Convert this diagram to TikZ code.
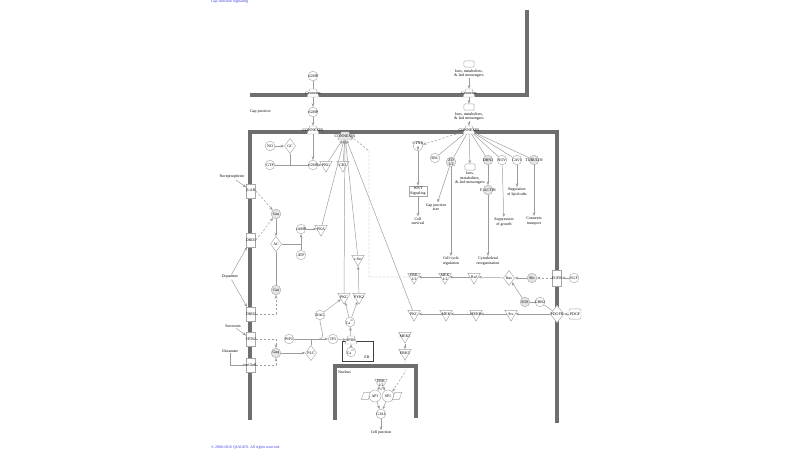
\documentclass[tikz,border=0pt]{standalone}
\usepackage{fontspec}
\setmainfont{Liberation Serif}
\usepackage{tikz}
\usetikzlibrary{calc}
\usetikzlibrary{positioning}
\usetikzlibrary{shapes.geometric}
\usetikzlibrary{arrows.meta}
\definecolor{membrane}{HTML}{6E6E6E}
\definecolor{nodeline}{HTML}{A6A6A6}
\definecolor{nodefill}{HTML}{E6E6E6}
\definecolor{linkgray}{HTML}{9C9C9C}
\definecolor{ipablue}{HTML}{3B3BE0}
\tikzset{
mol/.style={circle,draw=nodeline,fill=white,inner sep=0cm,minimum size=2.4mm,line width=0.3pt},
gmol/.style={mol,fill=nodefill},
kin/.style={regular polygon,regular polygon sides=3,shape border rotate=180,draw=nodeline,fill=white,inner sep=0.3pt,minimum size=3.6mm,line width=0.3pt},
enz/.style={diamond,draw=nodeline,fill=white,inner sep=0cm,minimum width=2.8mm,minimum height=3.8mm,line width=0.3pt},
recep/.style={rectangle,draw=nodeline,fill=white,inner sep=0cm,minimum width=2.3mm,minimum height=3.4mm,line width=0.3pt},
chan/.style={trapezium,trapezium angle=65,trapezium stretches=true,draw=nodeline,fill=white,inner sep=0.4pt,minimum width=3mm,minimum height=2mm,line width=0.3pt},
smbox/.style={rectangle,rounded corners=0.3mm,draw=nodeline,fill=white,inner sep=0cm,minimum width=2.6mm,minimum height=1.6mm,line width=0.3pt},
sigbox/.style={rectangle,draw=nodeline,fill=white,inner sep=0.3mm,align=center,line width=0.3pt},
tfbox/.style={trapezium,trapezium left angle=60,trapezium right angle=120,trapezium stretches=true,draw=nodeline,fill=white,inner sep=0.4pt,minimum width=2.4mm,minimum height=1.8mm,line width=0.3pt},
lb/.style={label={[inner sep=0pt,align=center]center:#1}},
txt/.style={align=center,inner sep=0.2mm},
link/.style={linkgray,line width=0.35pt,-{Stealth[length=0.9mm,width=0.7mm]}},
pline/.style={linkgray,line width=0.35pt},
dlink/.style={link,dash pattern=on 0.6mm off 0.4mm},
wall/.style={membrane,line width=1mm}
}

\begin{document}
\begin{tikzpicture}[x=0.25mm,y=-0.25mm]
    \fontsize{2.8}{3.1}\selectfont
    \useasboundingbox (0,0) rectangle (800,450);
    %
    \draw[wall] (250,95) -- (527,95) -- (527,10);
    \draw[wall] (250,420) -- (250,132) -- (557,132) -- (557,423);
    \draw[wall] (335,420) -- (335,366) -- (416,366) -- (416,418);
    \draw[black!75,line width=0.5pt] (342,341) rectangle (373,361);
    %
    \node[txt,anchor=west,text=ipablue](title) at (210,2) {Gap Junction Signaling};
    \node[txt,anchor=west](gjlbl) at (249,112) {Gap junction};
    \node[txt,anchor=west](nuclbl) at (337,372) {Nucleus};
    \node[txt](erlbl) at (367,357) {ER};
    \node[txt,anchor=west,text=ipablue](copy) at (210,448) {© 2000-2016 QIAGEN. All rights reserved.};
    %
    % junction between the two cells
    \node[mol, lb=cGMP](cgmp1) at (313,76) {};
    \node[chan, lb=Connexin](cx1) at (313,93) {};
    \node[mol, lb=cGMP](cgmp2) at (313,112) {};
    \node[chan, lb=CONNEXIN](cx2) at (313,130) {};
    \node[smbox](ion1) at (469,64) {};
    \node[txt, below=0.2mm of ion1](ion1t) {Ions, metabolites,\\\& 2nd messengers};
    \node[chan, lb=Connexin](cx3) at (469,93) {};
    \node[smbox](ion2) at (469,107) {};
    \node[txt, below=0.2mm of ion2](ion2t) {Ions, metabolites,\\\& 2nd messengers};
    \node[chan, lb=CONNEXIN](cx4) at (469,130) {};
    \node[chan, fill=nodefill, minimum width=3.6mm, lb=CONNEXIN](hub) at (345,136) {};
    %
    % cell, left part
    \node[mol, lb=NO](no) at (270,146) {};
    \node[enz, lb=GC](gc) at (290,146) {};
    \node[mol, lb=GTP](gtp) at (270,165) {};
    \coordinate (jgc) at (290,165);
    \node[mol, lb=cGMP](cgmp3) at (313,165) {};
    \node[kin, lb=PKG](pkg) at (326,165) {};
    \node[kin, lb=CK1](ck1) at (343,165) {};
    \node[txt](norepi) at (232,177) {Norepinephrine};
    \node[recep, lb=β-AR](bar) at (251,191) {};
    \node[gmol, lb=Gαs](gas) at (276,214) {};
    \node[enz, lb=AC](ac) at (276,244) {};
    \coordinate (jac) at (301,244);
    \node[mol, lb=cAMP](camp) at (301,229) {};
    \node[kin, lb=PKA](pka) at (321,229) {};
    \node[mol, lb=ATP](atp) at (301,255) {};
    \node[recep, lb=DRD1](drd1) at (251,240) {};
    \node[txt](dopa) at (230,277) {Dopamine};
    \node[gmol, lb=Gαi](gai) at (276,290) {};
    \node[recep, lb=DRD2](drd2) at (251,314) {};
    \node[txt](sero) at (233,326) {Serotonin};
    \node[recep, lb=HTR2](htr2) at (251,339) {};
    \node[txt](glu) at (230,351) {Glutamate};
    \node[recep, lb=mGluR](mglur) at (251,365) {};
    \node[gmol, lb=Gαq](gaq) at (276,353) {};
    \node[enz, lb=PLC](plc) at (311,353) {};
    \node[mol, lb=PIP2](pip2) at (289,339) {};
    \coordinate (jplc) at (311,339);
    \coordinate (jdag) at (319,339);
    \node[mol, lb=DAG](dag) at (320,315) {};
    \node[mol, lb=IP3](ip3) at (333,339) {};
    \node[chan, lb=IP3R](ip3r) at (351,340) {};
    \node[mol, lb=Ca\textsuperscript{2+}](ca1) at (351,352) {};
    \node[mol, lb=Ca\textsuperscript{2+}](ca2) at (350,322) {};
    \node[kin, lb=PKC](pkc) at (344,297) {};
    \node[kin, lb=PYK2](pyk2) at (359,297) {};
    \node[kin, lb=c-Src](src) at (358,259) {};
    %
    % cell, right part
    \node[mol, lb={CTNN\\β}](ctnn) at (418,146) {};
    \node[mol, lb=SRC](srcb) at (435,158) {};
    \node[gmol, lb={ZO\\1/2}](zo) at (451,162) {};
    \node[smbox](ion3) at (470,167) {};
    \node[txt, below=0.2mm of ion3](ion3t) {Ions,\\metabolites,\\\& 2nd messengers};
    \node[gmol, lb=DBN1](dbn1) at (488,160) {};
    \node[mol, lb=NOV](nov) at (502,160) {};
    \node[mol, lb=CAV1](cav1) at (517,160) {};
    \node[gmol, lb=TUBULIN](tub) at (534,160) {};
    \node[gmol, lb=F-ACTIN](factin) at (488,190) {};
    \node[sigbox](wnt) at (418,191) {WNT\\Signaling};
    \node[txt](surv) at (418,221) {Cell\\survival};
    \node[txt](gjsize) at (436,207) {Gap junction\\size};
    \node[txt](lipid) at (517,192) {Regulation\\of lipid rafts};
    \node[txt](supp) at (504,222) {Suppression\\of growth};
    \node[txt](ctrans) at (534,221) {Connexin\\transport};
    \node[txt](cellcyc) at (451,261) {Cell cycle\\regulation};
    \node[txt](cyto) at (488,261) {Cytoskeletal\\reorganization};
    %
    \node[kin, lb={ERK\\1/2}](erk) at (414,277) {};
    \node[kin, lb={MEK\\1/2}](mek) at (445,277) {};
    \node[kin, lb=Raf](raf) at (474,277) {};
    \node[enz, lb=Ras](ras) at (509,278) {};
    \node[gmol, lb=Shc](shc) at (532,278) {};
    \node[recep, minimum height=4mm, lb=EGFR](egfr) at (557,278) {};
    \node[mol, lb=EGF](egf) at (574,278) {};
    \node[kin, lb=PKC](r2a) at (414,314) {};
    \node[kin, lb=MEK](r2b) at (446,314) {};
    \node[kin, lb=MEKK](r2c) at (476,314) {};
    \node[kin, lb=Src](r2d) at (511,314) {};
    \node[gmol, lb=SOS](sos) at (525,302) {};
    \node[mol, lb=GRB2](grb2) at (540,302) {};
    \node[enz, minimum width=3.4mm, minimum height=4.4mm, lb=PDGFR](pdgfr) at (557,314) {};
    \node[smbox, minimum width=3mm, minimum height=2.6mm, lb=PDGF](pdgf) at (575,314) {};
    %
    % nucleus
    \node[kin, lb=MEK5](mek5) at (405,336) {};
    \node[kin, lb=ERK5](erk5) at (405,353) {};
    \node[kin, lb={ERK\\1/2}](erkn) at (381,383) {};
    \node[tfbox](tf1) at (366,396) {};
    \node[mol, minimum width=3mm, lb=AP1](ap1) at (375,396) {};
    \node[mol, minimum width=3mm, lb=SP1](sp1) at (388,396) {};
    \node[tfbox](tf2) at (397,396) {};
    \node[mol, lb=GJA1](gja1) at (381,414) {};
    \node[txt](celljn) at (381,433) {Cell junction};
    %
    \foreach \u / \v in {cx1/cgmp2,cgmp2/cx2,ion1t/cx3,cx3/ion2,ion2t/cx4,
      no/gc,gas/ac,jac/camp,camp/pka,cx2/cgmp3,cgmp3/pkg,norepi/bar,dopa/drd1,dopa/drd2,sero/htr2,
      gaq/plc,jdag/ip3,ip3/ip3r,ip3r/ca2,ca1/ip3r,ca2/pkc,ca2/pyk2,dag/pkc,pyk2/src,
      pkg/hub,ck1/hub,pka/hub,pkc/hub,src/hub,r2a/hub,
      ctnn/wnt,wnt/surv,zo/gjsize,zo/cellcyc,dbn1/factin,factin/cyto,nov/supp,cav1/lipid,tub/ctrans,cx4/ion3,
      egf/egfr,shc/ras,ras/raf,raf/mek,mek/erk,pdgf/pdgfr,pdgfr/r2d,r2d/r2c,r2c/r2b,r2b/r2a,sos/ras,
      mek5/erk5,erkn/ap1,erkn/sp1,ap1/gja1,sp1/gja1,gja1/celljn}
    \draw[link] (\u) -- (\v);
    \foreach \u / \v in {cgmp1/cx1,gc/jgc,gtp/cgmp3,ac/jac,atp/jac,gai/ac,plc/jplc,pip2/jdag,
      cx4/srcb,cx4/zo,cx4/dbn1,cx4/nov,cx4/cav1,cx4/tub,sos/grb2,grb2/pdgfr,tf1/ap1,sp1/tf2}
    \draw[pline] (\u) -- (\v);
    \draw[pline] (jdag) to[out=0,in=270] (dag);
    %
    \draw[dlink] (bar.east) -- (263,199) -- (gas);
    \draw[dlink] (drd1.east) -- (264,230) -- (gas);
    \draw[dlink] (drd2.east) -| (gai.south);
    \draw[dlink] (htr2.east) -| (gaq.north);
    \draw[dlink] (mglur.east) -| (gaq.south);
    \draw[link] (glu.south) |- (mglur.west);
    \draw[dlink] (erk.west) -- (369,277) -- (369,151) -- (hub.east);
    \draw[dlink] (cx4) -- (ctnn);
    \draw[dlink] (egfr) -- (shc);
    \draw[dlink] (erk5.south) -- (405,372) -- (sp1.north east);
  \end{tikzpicture}
\end{document}
